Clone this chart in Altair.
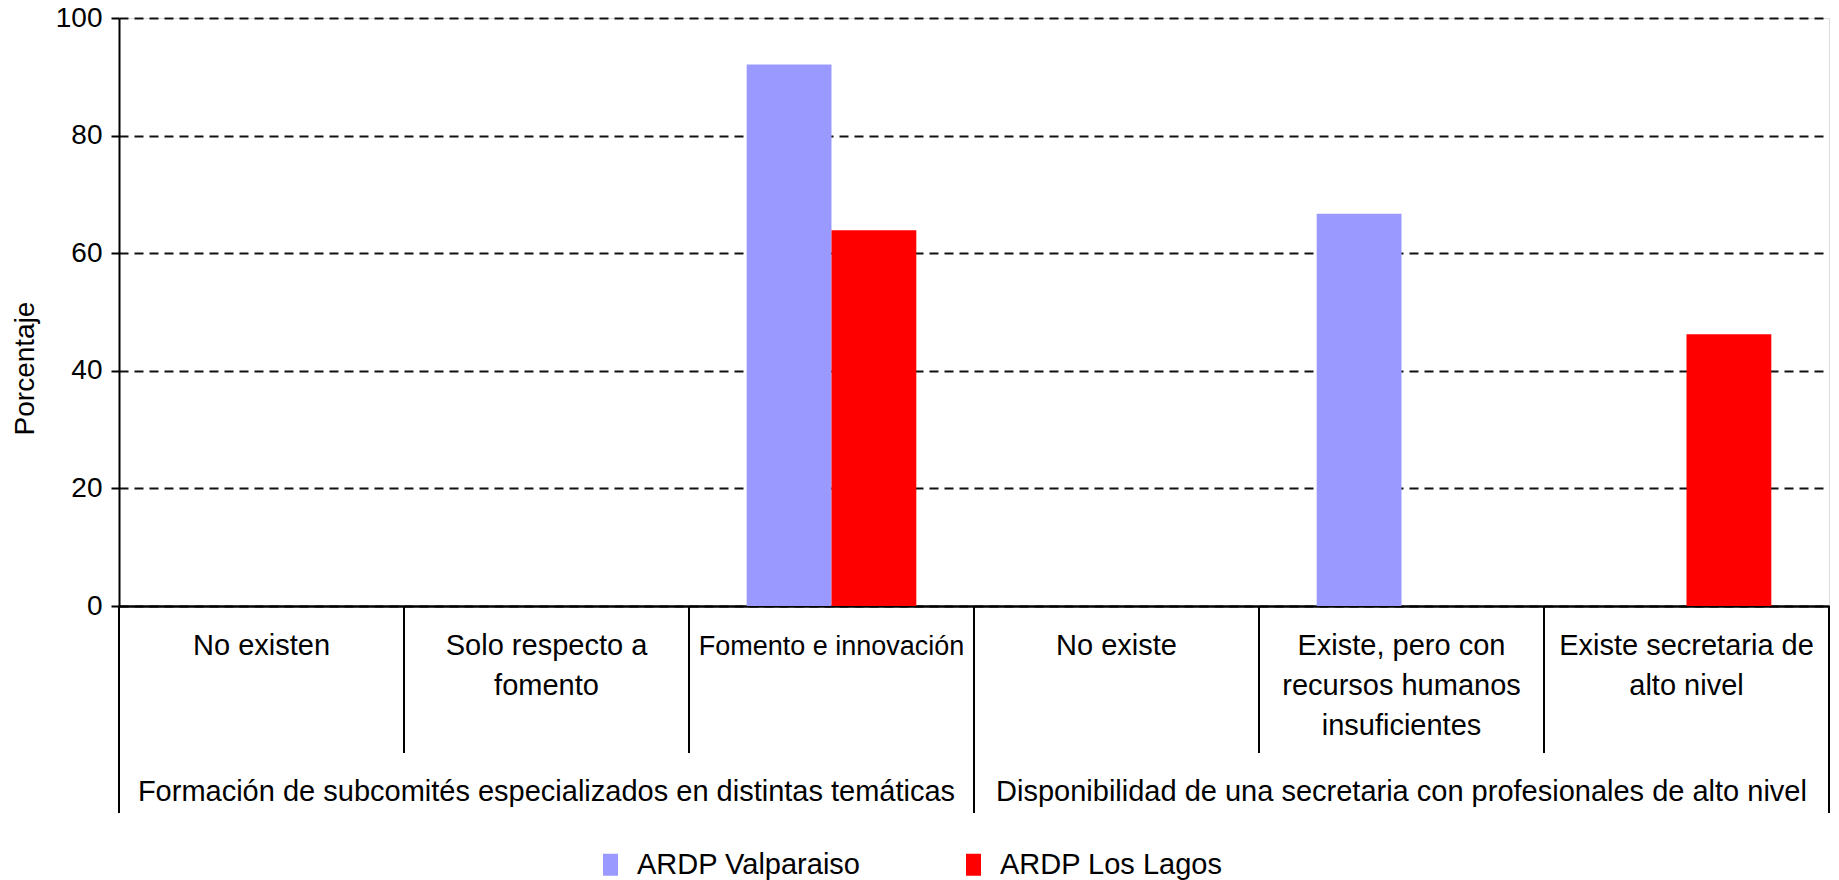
import altair as alt
import pandas as pd

# ---------------- data ----------------
cat_ids = ["c1", "c2", "c3", "c4", "c5", "c6"]
cat_labels = [
    "No existen",
    "Solo respecto a\nfomento",
    "Fomento e innovación",
    "No existe",
    "Existe, pero con\nrecursos humanos\ninsuficientes",
    "Existe secretaria de\nalto nivel",
]
group_labels = [
    "Formación de subcomités especializados en distintas temáticas",
    "Disponibilidad de una secretaria con profesionales de alto nivel",
]
group_center_cat = ["c2", "c5"]
inner_edges = ["c2", "c3", "c5", "c6"]
group_edges = ["c1", "c4"]
last_edge = ["c6"]

series = ["ARDP Valparaiso", "ARDP Los Lagos"]
valparaiso = [0, 0, 92.1, 0, 66.7, 0]
los_lagos = [0, 0, 63.9, 0, 0, 46.2]
colors = ["#9999FF", "#FF0000"]
y_ticks = [0, 20, 40, 60, 80, 100]

# ---------------- tables ----------------
rows = []
for s, vals in zip(series, [valparaiso, los_lagos]):
    for c, v in zip(cat_ids, vals):
        rows.append({"cat": c, "series": s, "value": v})
bars_df = pd.DataFrame(rows)
labels_df = pd.DataFrame({"cat": cat_ids, "label": cat_labels})
groups_df = pd.DataFrame({"cat": group_center_cat, "label": group_labels})
inner_df = pd.DataFrame({"cat": inner_edges})
gedge_df = pd.DataFrame({"cat": group_edges})
last_df = pd.DataFrame({"cat": last_edge})

W, H = 1710, 588
FONT = "Liberation Sans"

xscale = alt.Scale(domain=cat_ids, paddingInner=0, paddingOuter=0)
xaxis = alt.Axis(labels=False, ticks=False, title=None, grid=False,
                 domain=True, domainColor="black", domainWidth=2.5)


def X(**kw):
    return alt.X("cat:N", scale=xscale, axis=xaxis, sort=cat_ids, title=None, **kw)


bars = alt.Chart(bars_df).mark_bar().encode(
    x=X(),
    xOffset=alt.XOffset("series:N", sort=series,
                        scale=alt.Scale(domain=series, paddingInner=0, paddingOuter=0.68)),
    y=alt.Y("value:Q",
            scale=alt.Scale(domain=[0, 100], nice=False),
            axis=alt.Axis(values=y_ticks, title="Porcentaje", grid=True,
                          gridDash=[9, 6], gridColor="#111111", gridWidth=2,
                          domainColor="black", domainWidth=2,
                          tickColor="black", tickWidth=2, tickSize=8,
                          labelFontSize=28, labelPadding=9, labelColor="black",
                          labelFont=FONT,
                          titleFontSize=28, titleFontWeight="normal",
                          titleColor="black", titleFont=FONT,
                          titleX=-80, titleY=350)),
    color=alt.Color("series:N", sort=series,
                    scale=alt.Scale(domain=series, range=colors),
                    legend=alt.Legend(title=None, orient="none",
                                      legendX=477, legendY=832,
                                      direction="horizontal",
                                      symbolType="M-0.68,-1H0.68V1H-0.68Z",
                                      symbolSize=484, symbolStrokeWidth=0,
                                      labelFontSize=29, labelFont=FONT,
                                      labelColor="black", labelLimit=600,
                                      labelOffset=12, columnPadding=98,
                                      padding=0)),
)

inner_rules = alt.Chart(inner_df).mark_rule(color="black", strokeWidth=2).encode(
    x=X(bandPosition=0), y=alt.value(H), y2=alt.value(735))
group_rules = alt.Chart(gedge_df).mark_rule(color="black", strokeWidth=2).encode(
    x=X(bandPosition=0), y=alt.value(H), y2=alt.value(795))
last_rule = alt.Chart(last_df).mark_rule(color="black", strokeWidth=2).encode(
    x=X(bandPosition=1), y=alt.value(H), y2=alt.value(795))

cat_text = alt.Chart(labels_df).mark_text(
    baseline="alphabetic", align="center", lineHeight=40,
    lineBreak="\n", color="black", font=FONT
).encode(
    x=X(), y=alt.value(637), text="label:N",
    size=alt.condition(alt.datum.cat == "c3", alt.value(27), alt.value(29)),
)

group_text = alt.Chart(groups_df).mark_text(
    baseline="alphabetic", align="center", fontSize=29, color="black", font=FONT
).encode(x=X(), y=alt.value(783), text="label:N")

chart = alt.layer(
    bars, inner_rules, group_rules, last_rule, cat_text, group_text
).properties(
    width=W, height=H,
    padding={"left": 111, "top": 10, "right": 2, "bottom": 275},
    autosize=alt.AutoSizeParams(type="none"),
).configure_view(stroke=None).configure(font=FONT)

chart.save("out.html", embed_options={"renderer": "svg", "actions": False})
